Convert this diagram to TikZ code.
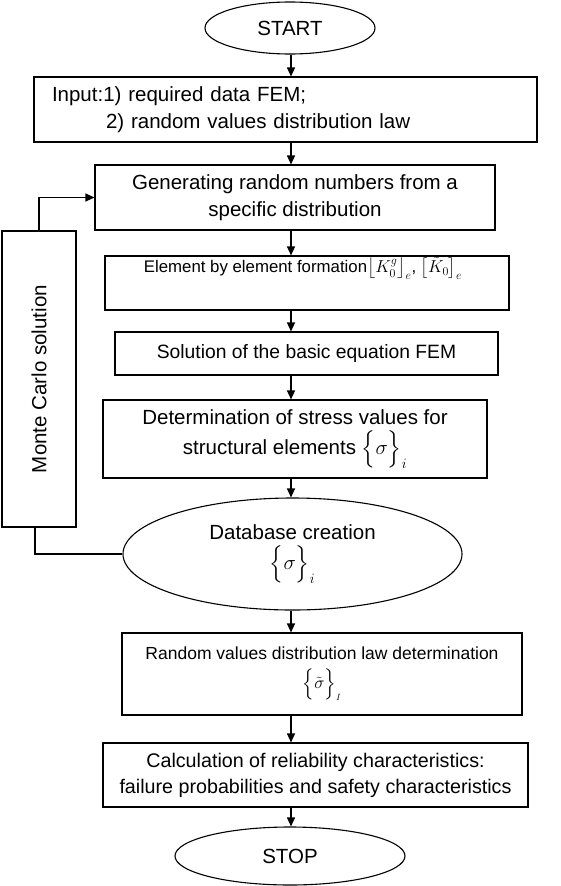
\documentclass[tikz,border=0pt]{standalone}
\usepackage{fontspec}
\setmainfont{Liberation Sans}
\usepackage{amsmath}
\usepackage{tikz}
\usetikzlibrary{positioning,shapes.geometric,arrows.meta}

\begin{document}
\begin{tikzpicture}[x=1pt,y=-1pt,
    font=\fontsize{20.5}{27}\selectfont,
    box/.style={draw,rectangle,line width=1.1pt,inner sep=0pt,align=center},
    term/.style={draw,ellipse,line width=1.1pt,inner sep=0pt,align=center},
    arr/.style={line width=1.1pt,-{Triangle[length=9pt,width=8pt]}}]
    \useasboundingbox (0,0) rectangle (560,886);
    \coordinate (axis) at (291,0);
    \node[term,minimum width=170,minimum height=52] (start) at (290,28) {START};
    \node[box,minimum width=503,minimum height=65,text width=467,align=left] (input) at (285.5,109.5)
      {Input:1) required data FEM;\\\hspace{54pt}2) random values distribution law};
    \node[box,minimum width=400,minimum height=65] (gen) at (295,197.5)
      {Generating random numbers from a\\specific distribution};
    \node[box,minimum width=404,minimum height=54] (elem) at (307,283) {};
    \node[font=\fontsize{16.8}{20}\selectfont] (elemtxt) at (303,268)
      {Element by element formation$\bigl\lfloor K_0^{g}\bigr\rfloor_{e}$, $\bigl[\tilde{K}_0\bigr]_{e}$};
    \node[box,minimum width=383,minimum height=43,font=\fontsize{19.3}{25}\selectfont] (sol) at (306.5,353.5)
      {Solution of the basic equation FEM};
    \node[box,minimum width=384,minimum height=78,font=\fontsize{20.5}{30}\selectfont] (det) at (295,439)
      {Determination of stress values for\\structural elements $\Bigl\{\sigma\Bigr\}_i$};
    \node[term,minimum width=339,minimum height=112,font=\fontsize{20.5}{30}\selectfont] (db) at (292.5,554)
      {Database creation\\$\Bigl\{\sigma\Bigr\}_i$};
    \node[box,minimum width=400,minimum height=82,font=\fontsize{17.5}{29}\selectfont] (rnd) at (322,674)
      {Random values distribution law determination\\$\Bigl\{\tilde{\sigma}\Bigr\}_{\scriptscriptstyle I}$};
    \node[box,minimum width=425,minimum height=64,font=\fontsize{19.7}{26}\selectfont] (calc) at (315.5,775)
      {Calculation of reliability characteristics:\\failure probabilities and safety characteristics};
    \node[term,minimum width=230,minimum height=58] (stop) at (290,856) {STOP};
    \node[box,minimum width=74,minimum height=296] (mc) at (39,379)
      {\rotatebox{90}{Monte Carlo solution}};

    \draw[arr] (start.south -| axis) -- (input.north -| axis);
    \draw[arr] (input.south -| axis) -- (gen.north -| axis);
    \draw[arr] (gen.south -| axis) -- (elem.north -| axis);
    \draw[arr] (elem.south -| axis) -- (sol.north -| axis);
    \draw[arr] (sol.south -| axis) -- (det.north -| axis);
    \draw[arr] (det.south -| axis) -- (db.north -| axis);
    \draw[arr] (db.south -| axis) -- (rnd.north -| axis);
    \draw[arr] (rnd.south -| axis) -- (calc.north -| axis);
    \draw[arr] (calc.south -| axis) -- (stop.north -| axis);
    % loop of the Monte Carlo solution
    \draw[arr] (mc.north) |- (gen.west);
    \draw[line width=1.1pt] ([xshift=-4pt]mc.south) |- (db.west);
\end{tikzpicture}
\end{document}
